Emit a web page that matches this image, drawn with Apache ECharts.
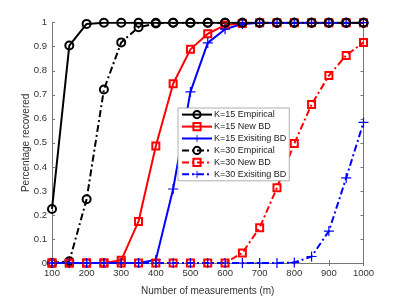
<!DOCTYPE html>
<html><head><meta charset="utf-8">
<script src="https://cdn.jsdelivr.net/npm/echarts@6/dist/echarts.min.js"></script>
<style>html,body{margin:0;padding:0;background:#fff}#c{width:402px;height:301px}</style>
</head><body><div id="c"></div>
<script>
const measurements = [100,150,200,250,300,350,400,450,500,550,600,650,700,750,800,850,900,950,1000];
const k15Empirical = [0.225,0.905,0.995,1,1,1,1,1,1,1,1,1,1,1,1,1,1,1,1];
const k15NewBD     = [0,0,0,0,0.011,0.173,0.487,0.746,0.889,0.954,0.99,0.997,1,1,1,1,1,1,1];
const k15ExistBD   = [0,0,0,0,0,0,0.013,0.308,0.712,0.916,0.973,0.995,1,1,1,1,1,1,1];
const k30Empirical = [0,0.007,0.265,0.722,0.918,0.981,0.997,1,1,1,1,1,1,1,1,1,1,1,1];
const k30NewBD     = [0,0,0,0,0,0,0,0,0,0,0,0.042,0.147,0.313,0.497,0.66,0.78,0.864,0.918];
const k30ExistBD   = [0,0,0,0,0,0,0,0,0,0,0,0,0,0,0.002,0.027,0.133,0.354,0.585];
const seriesNames = ['K=15 Empirical','K=15 New BD','K=15 Exisiting BD','K=30 Empirical','K=30 New BD','K=30 Exisiting BD'];

const plus = 'path://M4.4,0H5.6V4.4H10V5.6H5.6V10H4.4V5.6H0V4.4H4.4Z';
const dashDot = [7,3,2,3];
function pts(arr){ return measurements.map((m,i)=>[m,arr[i]]); }
function mk(name, data, color, symbol, size, dashed, filled){
  return {
    name, type:'line', data: pts(data), symbol, symbolSize:size,
    showSymbol:true,
    lineStyle:{color, width:2, type: dashed ? dashDot : 'solid'},
    itemStyle:{color: filled ? color : 'transparent', borderColor: color, borderWidth: filled?0:2},
    emphasis:{disabled:true}, animation:false, z: 2
  };
}
const axisColor = '#777';
const textColor = '#333';
const font = 'Liberation Sans';
const chart = echarts.init(document.getElementById('c'), null, {renderer:'canvas'});
chart.setOption({
  backgroundColor:'#fff',
  animation:false,
  grid:{left:52, right:38.5, top:22.7, bottom:33.3, containLabel:false},
  legend:{
    data: seriesNames, orient:'vertical', left:178, top:108, width:105,
    backgroundColor:'#fff', borderColor:'#999', borderWidth:0.8, borderRadius:0,
    padding:[2,3,2,3], itemGap:2.8, itemWidth:30, itemHeight:9,
    textStyle:{fontFamily:font, fontSize:9, color:'#222', padding:[0,0,0,-3]},
    selectedMode:false
  },
  xAxis:[{
    type:'value', min:100, max:1000, interval:100,
    name:'Number of measurements (m)', nameLocation:'middle', nameGap:23,
    nameMoveOverlap:false,
    nameTextStyle:{fontFamily:font, fontSize:10, color:textColor},
    axisLine:{show:true, lineStyle:{color:axisColor, width:1}},
    axisTick:{show:true, inside:true, length:3, lineStyle:{color:axisColor}},
    axisLabel:{fontFamily:font, fontSize:9.5, color:textColor, margin:5, formatter:v=>String(v)},
    splitLine:{show:false}
  },{
    type:'value', min:100, max:1000, interval:100, position:'top',
    axisLine:{show:true, lineStyle:{color:axisColor, width:1}},
    axisTick:{show:true, inside:true, length:3, lineStyle:{color:axisColor}},
    axisLabel:{show:false}, splitLine:{show:false}
  }],
  yAxis:[{
    type:'value', min:0, max:1, interval:0.1,
    name:'Percentage recovered', nameLocation:'middle', nameGap:21,
    nameMoveOverlap:false,
    nameTextStyle:{fontFamily:font, fontSize:10, color:textColor},
    axisLine:{show:true, lineStyle:{color:axisColor, width:1}},
    axisTick:{show:true, inside:true, length:3, lineStyle:{color:axisColor}},
    axisLabel:{fontFamily:font, fontSize:9.5, color:textColor, margin:5, formatter:v=>String(+v.toFixed(1))},
    splitLine:{show:false}
  },{
    type:'value', min:0, max:1, interval:0.1, position:'right',
    axisLine:{show:true, lineStyle:{color:axisColor, width:1}},
    axisTick:{show:true, inside:true, length:3, lineStyle:{color:axisColor}},
    axisLabel:{show:false}, splitLine:{show:false}
  }],
  series:[
    mk(seriesNames[0], k15Empirical, '#000', 'circle', 8, false, false),
    mk(seriesNames[1], k15NewBD, '#ff0000', 'rect', 7, false, false),
    mk(seriesNames[2], k15ExistBD, '#0000ff', plus, 10, false, true),
    mk(seriesNames[3], k30Empirical, '#000', 'circle', 8, true, false),
    mk(seriesNames[4], k30NewBD, '#ff0000', 'rect', 7, true, false),
    mk(seriesNames[5], k30ExistBD, '#0000ff', plus, 10, true, true)
  ]
});
</script></body></html>
